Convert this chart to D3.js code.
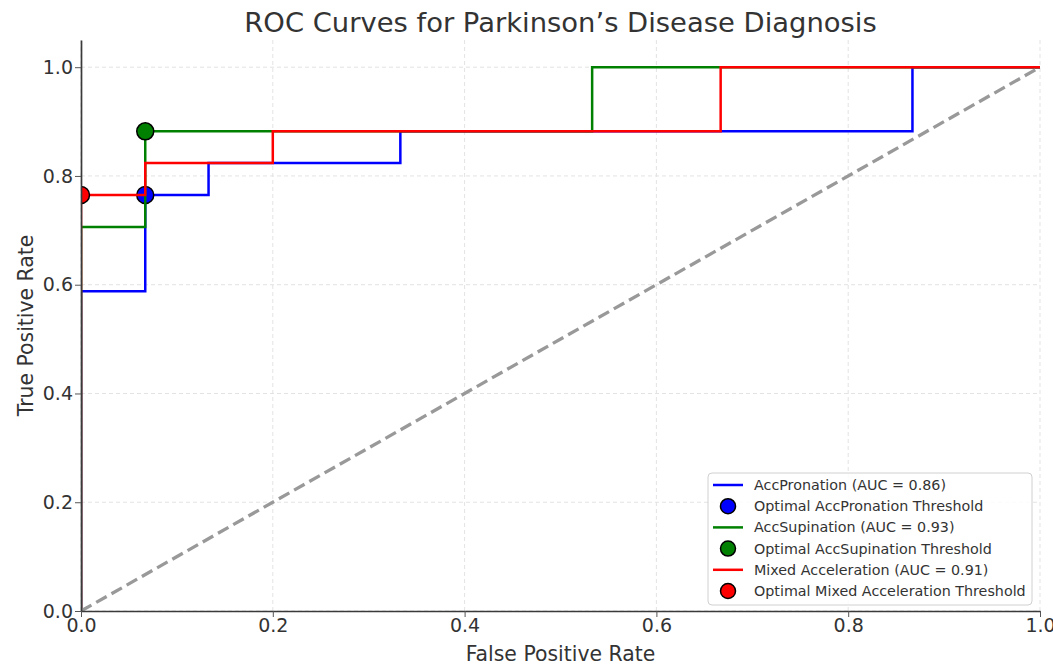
<!DOCTYPE html>
<html>
<head>
<meta charset="utf-8">
<script src="https://cdn.jsdelivr.net/npm/d3@7"></script>
<style>
  html, body { margin: 0; padding: 0; background: #fff; }
  svg { display: block; font-family: "DejaVu Sans", sans-serif; }
</style>
</head>
<body>
<svg id="chart" width="1053" height="666"></svg>
<script>
// ROC curve points (false positive rate / true positive rate) for each feature set
const fprPronation = [0, 0, 0.067, 0.067, 0.133, 0.133, 0.333, 0.333, 0.867, 0.867, 1];
const tprPronation = [0, 0.588, 0.588, 0.765, 0.765, 0.824, 0.824, 0.882, 0.882, 1, 1];

const fprSupination = [0, 0, 0.067, 0.067, 0.533, 0.533, 1];
const tprSupination = [0, 0.706, 0.706, 0.882, 0.882, 1, 1];

const fprMixed = [0, 0, 0.067, 0.067, 0.2, 0.2, 0.667, 0.667, 1];
const tprMixed = [0, 0.765, 0.765, 0.824, 0.824, 0.882, 0.882, 1, 1];

// Optimal thresholds [fpr, tpr]
const optPronation = [0.067, 0.765];
const optSupination = [0.067, 0.882];
const optMixed = [0, 0.765];

const seriesNames = ["AccPronation", "AccSupination", "Mixed Acceleration"];
const aucValues = [0.86, 0.93, 0.91];
const seriesColors = ["#0000ff", "#008000", "#ff0000"];

const tickValues = [0, 0.2, 0.4, 0.6, 0.8, 1.0];
const chanceLine = [0, 1];

const series = [
  { fpr: fprPronation, tpr: tprPronation, opt: optPronation },
  { fpr: fprSupination, tpr: tprSupination, opt: optSupination },
  { fpr: fprMixed, tpr: tprMixed, opt: optMixed }
].map((s, i) => ({
  ...s,
  name: seriesNames[i],
  auc: aucValues[i],
  color: seriesColors[i],
  points: s.fpr.map((f, j) => [f, s.tpr[j]])
}));

const svg = d3.select("#chart");
const plotLeft = 81, plotRight = 1040, plotTop = 40, plotBottom = 611;

const x = d3.scaleLinear().domain([0, 1]).range([plotLeft, plotRight]);
const y = d3.scaleLinear().domain([0, 1.05]).range([plotBottom, plotTop]);

svg.append("defs").append("clipPath").attr("id", "plot-clip")
  .append("rect")
  .attr("x", plotLeft).attr("y", plotTop)
  .attr("width", plotRight - plotLeft).attr("height", plotBottom - plotTop);

// grid
const grid = svg.append("g").attr("stroke", "#e3e3e3").attr("stroke-width", 1)
  .attr("stroke-dasharray", "4,3");
grid.selectAll("line.gx").data(tickValues).join("line").attr("class", "gx")
  .attr("x1", d => x(d)).attr("x2", d => x(d))
  .attr("y1", plotTop).attr("y2", plotBottom);
grid.selectAll("line.gy").data(tickValues).join("line").attr("class", "gy")
  .attr("x1", plotLeft).attr("x2", plotRight)
  .attr("y1", d => y(d)).attr("y2", d => y(d));

const plot = svg.append("g").attr("clip-path", "url(#plot-clip)");

const line = d3.line().x(d => x(d[0])).y(d => y(d[1]));

series.forEach(s => {
  plot.append("path")
    .datum(s.points)
    .attr("d", line)
    .attr("fill", "none")
    .attr("stroke", s.color)
    .attr("stroke-width", 2.5)
    .attr("stroke-linejoin", "miter");
  plot.append("circle")
    .attr("cx", x(s.opt[0]))
    .attr("cy", y(s.opt[1]))
    .attr("r", 8.5)
    .attr("fill", s.color)
    .attr("stroke", "#000")
    .attr("stroke-width", 1.5);
});

// chance diagonal
plot.append("path")
  .datum(chanceLine.map(v => [v, v]))
  .attr("d", line)
  .attr("fill", "none")
  .attr("stroke", "#999")
  .attr("stroke-width", 3.3)
  .attr("stroke-dasharray", "12,5.5");

// axes
const fmt = d3.format(".1f");
const yAxis = svg.append("g").attr("transform", `translate(${plotLeft},0)`)
  .call(d3.axisLeft(y).tickValues(tickValues).tickFormat(fmt).tickSize(6).tickSizeOuter(0).tickPadding(2));
const xAxis = svg.append("g").attr("transform", `translate(0,${plotBottom})`)
  .call(d3.axisBottom(x).tickValues(tickValues).tickFormat(fmt).tickSize(6).tickSizeOuter(0).tickPadding(2));

[xAxis, yAxis].forEach(a => {
  a.select(".domain").attr("stroke", "#3a3a3a").attr("stroke-width", 1.7);
  a.selectAll(".tick line").attr("stroke", "#555").attr("stroke-width", 1);
  a.selectAll(".tick text")
    .attr("fill", "#333")
    .style("font-family", "DejaVu Sans, sans-serif")
    .style("font-size", "19px");
});

// title and axis labels
svg.append("text")
  .attr("x", (plotLeft + plotRight) / 2).attr("y", 32)
  .attr("text-anchor", "middle")
  .attr("fill", "#333")
  .style("font-size", "27.4px")
  .text("ROC Curves for Parkinson’s Disease Diagnosis");

svg.append("text")
  .attr("x", (plotLeft + plotRight) / 2).attr("y", 661)
  .attr("text-anchor", "middle")
  .attr("fill", "#333")
  .style("font-size", "20.4px")
  .text("False Positive Rate");

svg.append("text")
  .attr("transform", `translate(33,${(plotTop + plotBottom) / 2}) rotate(-90)`)
  .attr("text-anchor", "middle")
  .attr("fill", "#333")
  .style("font-size", "20.4px")
  .text("True Positive Rate");

// legend
const legend = svg.append("g");
legend.append("rect")
  .attr("x", 708).attr("y", 473)
  .attr("width", 324).attr("height", 132)
  .attr("rx", 4)
  .attr("fill", "#fff").attr("fill-opacity", 0.85)
  .attr("stroke", "#d0d0d0").attr("stroke-width", 1);

const legendItems = [];
series.forEach(s => {
  legendItems.push({ kind: "line", color: s.color, label: `${s.name} (AUC = ${s.auc.toFixed(2)})` });
  legendItems.push({ kind: "marker", color: s.color, label: `Optimal ${s.name} Threshold` });
});

const rowY = i => 485 + i * 21.2;
const entries = legend.selectAll("g.entry").data(legendItems).join("g")
  .attr("class", "entry")
  .attr("transform", (d, i) => `translate(0,${rowY(i)})`);

entries.filter(d => d.kind === "line").append("line")
  .attr("x1", 713).attr("x2", 743).attr("y1", 0).attr("y2", 0)
  .attr("stroke", d => d.color).attr("stroke-width", 2.5);
entries.filter(d => d.kind === "marker").append("circle")
  .attr("cx", 728).attr("cy", 0).attr("r", 7.5)
  .attr("fill", d => d.color).attr("stroke", "#000").attr("stroke-width", 1.5);
entries.append("text")
  .attr("x", 754).attr("y", 0).attr("dy", "0.35em")
  .attr("fill", "#333")
  .style("font-size", "14.3px")
  .text(d => d.label);
</script>
</body>
</html>
